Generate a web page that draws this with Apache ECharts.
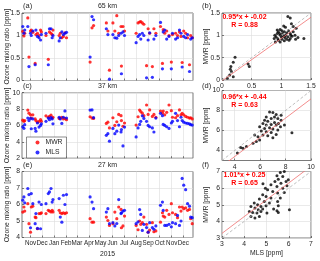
<!DOCTYPE html>
<html><head><meta charset="utf-8">
<script src="https://cdn.jsdelivr.net/npm/echarts@6/dist/echarts.min.js"></script>
<style>html,body{margin:0;padding:0;background:#fff}#c{width:320px;height:261px}</style>
</head><body><div id="c"></div>
<script>
// ---------- data ----------
const dates = ['2014-10-12','2014-10-15','2014-10-17','2014-10-25','2014-10-28','2014-11-01','2014-11-03','2014-11-07','2014-11-13','2014-11-15','2014-11-19','2014-11-23','2014-11-27','2014-11-29',
'2014-12-11','2014-12-17','2014-12-20','2014-12-24','2014-12-27','2014-12-29',
'2015-01-14','2015-01-17','2015-01-21','2015-01-25','2015-01-29','2015-02-02',
'2015-04-04','2015-04-09','2015-04-13',
'2015-05-16','2015-05-20','2015-05-24','2015-06-02','2015-06-07','2015-06-12','2015-06-17','2015-06-23','2015-06-24','2015-06-28','2015-07-02',
'2015-08-01','2015-08-06','2015-08-10','2015-08-13','2015-08-17','2015-08-21','2015-08-28','2015-09-01','2015-09-05','2015-09-12','2015-09-16','2015-09-21',
'2015-10-03','2015-10-08','2015-10-10','2015-10-14','2015-10-19','2015-10-25','2015-10-31','2015-11-03',
'2015-11-11','2015-11-16','2015-11-21','2015-11-25','2015-11-28','2015-12-02','2015-12-07','2015-12-12','2015-12-17','2015-12-20','2015-12-24'];

const mwr65 = [1.09,0.99,1.05,1.39,0.52,1.10,1.12,1.07,0.38,1.02,1.05,1.00,1.12,1.08,
1.00,0.47,1.08,1.05,1.02,1.12,
1.00,1.05,0.95,0.98,1.06,0.95,
0.41,1.17,1.22,
1.28,1.10,0.23,1.28,1.10,1.44,1.05,1.20,0.32,1.20,1.10,
1.05,1.28,1.30,1.31,1.28,1.25,0.33,1.15,1.05,0.31,1.15,1.05,
1.20,0.38,1.13,1.05,1.10,1.00,0.41,1.02,
1.05,1.00,1.08,0.98,0.40,1.10,1.05,0.95,0.35,1.00,0.95];
const mls65 = [1.20,1.05,1.12,1.20,0.31,1.05,1.00,1.10,0.35,1.12,0.98,0.95,0.90,1.02,
1.05,0.35,1.15,1.15,0.95,1.00,
0.88,0.95,1.08,1.02,1.05,1.07,
0.52,1.42,1.35,
1.15,1.02,0.03,1.02,0.95,0.94,1.00,1.05,0.15,1.08,1.00,
0.84,0.98,1.02,0.92,1.05,1.00,0.06,0.90,1.06,0.07,0.92,1.00,
1.29,0.26,1.08,1.12,0.92,0.98,0.26,1.05,
0.92,0.95,1.12,1.05,0.30,0.98,0.95,1.02,0.20,0.92,0.95];

const mwr37 = [6.65,6.5,6.6,7.88,7.5,7.3,6.9,7.3,6.8,6.6,6.4,6.5,6.7,6.5,
7.18,7.0,7.1,7.25,6.9,7.0,
6.86,6.9,7.0,6.8,6.86,6.7,
7.06,6.9,6.86,
6.25,6.4,5.7,6.94,6.0,6.45,7.35,7.2,6.6,5.9,6.3,
6.05,7.06,7.88,7.7,7.5,7.2,8.5,7.35,7.9,7.1,7.35,7.0,
7.76,7.5,7.76,7.3,7.6,8.5,7.8,7.0,
6.94,7.2,7.9,7.3,7.48,7.3,7.1,7.0,6.9,6.94,6.8];
const mls37 = [5.84,5.65,6.1,6.9,6.6,6.86,5.6,6.8,5.64,5.3,6.3,5.8,6.0,6.2,
6.5,6.9,6.7,6.95,6.8,6.2,
7.0,6.8,6.25,7.0,7.77,6.9,
7.88,7.9,6.95,
4.8,5.0,4.08,5.64,5.0,5.3,6.05,5.2,5.5,3.5,5.8,
4.6,5.7,6.13,6.5,7.18,6.86,6.5,6.0,5.84,5.7,5.2,6.9,
7.48,7.2,6.13,6.0,5.84,5.64,6.3,6.5,
7.48,6.6,5.84,7.0,6.6,6.4,6.3,6.25,6.2,6.1,6.05];

const mwr27 = [5.54,5.85,5.6,6.05,4.84,4.32,5.85,5.9,5.24,5.2,4.53,5.45,5.45,5.5,
5.45,5.65,5.6,5.55,5.65,5.55,
5.65,5.5,5.45,5.5,5.45,5.5,
5.14,4.93,4.93,
5.24,5.03,4.73,4.84,5.54,5.14,5.85,5.7,4.59,4.7,5.3,
4.73,4.47,5.0,4.8,4.9,5.24,4.8,4.32,4.45,4.9,4.35,4.4,
4.93,5.5,5.3,5.24,5.65,5.4,6.05,5.5,
5.4,5.2,5.85,5.6,5.85,5.75,5.8,5.65,5.7,5.14,4.84];
const mls27 = [6.26,6.46,6.1,6.97,6.6,4.59,6.66,6.05,4.84,5.45,4.55,6.15,4.53,6.0,
6.05,6.66,6.76,6.97,6.15,6.3,
6.36,5.24,4.93,6.56,6.0,6.6,
6.46,6.15,5.75,
5.54,5.75,4.84,4.9,4.7,4.85,6.3,5.45,5.5,5.6,5.65,
4.84,4.95,5.69,5.4,4.43,4.8,4.6,4.32,4.9,4.6,4.5,4.7,
5.95,6.15,5.64,4.73,4.73,4.8,4.65,4.9,
4.84,5.34,4.73,5.0,7.58,7.17,6.9,6.05,5.9,5.24,5.2];

// scatter panels (x: MLS, y: MWR)
const mlsB = [1.11,1.15,1.17,1.04,1.07,0.98,0.93,0.95,1.01,1.05,1.09,1.12,1.15,1.20,1.23,0.89,0.91,0.94,0.98,1.02,1.04,1.07,1.11,1.15,1.18,1.24,1.28,1.38,1.25,1.20,0.95,1.01,1.05,0.90,0.98,1.09,1.13,1.06,1.00,1.16,0.93,0.97,0.88,0.22,0.19,0.15,0.14,0.16,0.13,0.09,0.19,0.44,0.46];
const mwrB = [1.42,1.39,1.26,1.21,1.18,1.13,1.12,1.08,1.10,1.08,1.06,1.10,1.04,1.08,1.00,1.00,0.97,0.93,1.00,1.04,0.98,1.00,0.97,0.93,0.98,0.91,0.95,0.93,1.16,1.20,0.89,0.91,0.88,0.85,0.85,0.91,0.89,0.95,0.97,1.00,1.04,1.04,0.93,0.51,0.40,0.30,0.24,0.19,0.11,0.04,0.07,0.36,0.30];
const mlsD = [6.74,7.0,7.26,6.48,6.87,7.39,7.65,6.6,7.13,6.22,6.48,6.87,7.26,7.6,7.91,5.96,6.35,6.74,7.0,7.39,6.09,6.48,6.87,7.26,6.22,6.6,7.0,5.83,5.96,5.57,5.7,5.44,8.5,4.92,4.65,4.47,4.21,7.65,7.44,6.35,7.13];
const mwrD = [7.86,7.79,7.6,7.36,7.2,7.2,7.03,6.93,6.8,6.7,6.54,6.6,6.54,6.37,6.54,6.37,6.2,6.27,6.14,6.04,5.94,5.88,5.81,5.61,5.55,5.48,5.28,5.38,5.05,5.55,4.89,4.72,5.78,4.39,4.23,4.3,3.74,7.53,6.7,7.03,7.36];
const mlsF = [5.47,5.62,5.8,5.92,5.73,5.53,5.38,5.65,5.88,5.2,5.47,5.73,5.92,5.98,5.05,5.28,5.5,5.8,4.83,4.98,5.2,4.68,4.9,5.13,4.45,4.6,4.75,4.98,4.3,4.48,4.63,4.83,4.23,4.38,4.57,4.75,4.3,4.48,4.68,5.02,5.5,5.53,5.47,5.53,6.03,5.32,4.84,4.95,5.62];
const mwrF = [6.74,6.94,7.0,7.04,6.7,6.54,6.4,6.3,6.4,6.2,6.1,6.0,6.14,6.5,5.9,5.8,5.7,5.74,5.6,5.5,5.4,5.34,5.2,5.1,5.1,5.0,4.9,4.94,4.9,4.8,4.7,4.74,4.6,4.54,4.5,4.6,4.3,4.2,4.3,4.5,5.2,4.94,4.64,4.54,4.7,4.74,6.26,6.0,5.4];

const fitSlopes = [0.95, 0.96, 1.01];
const fitIntercepts = [-0.02, -0.44, 0.25];
const fitR = [0.88, 0.63, 0.65];

const monthTicks = ['2014-11-01','2014-12-01','2015-01-01','2015-02-01','2015-03-01','2015-04-01','2015-05-01','2015-06-01','2015-07-01','2015-08-01','2015-09-01','2015-10-01','2015-11-01','2015-12-01'];
const monthLabels = ['Nov','Dec','Jan','Feb','Mar','Apr','May','Jun','Jul','Aug','Sep','Oct','Nov','Dec'];
const timeRange = ['2014-10-10','2015-12-26'];
const yearLabel = '2015';
const altitudes = ['65 km','37 km','27 km'];
const panelLeft = ['(a)','(c)','(e)'];
const panelRight = ['(b)','(d)','(f)'];
const yNameLeft = 'Ozone mixing ratio [ppm]';
const yNameRight = 'MWR [ppm]';
const xNameRight = 'MLS [ppm]';

// ---------- chart ----------
const T = s => Date.parse(s + 'T00:00:00Z');
const monthTs = monthTicks.map(T);
const FONT = 'Liberation Sans, Arial, Helvetica, sans-serif';
const INK = '#262626';
const GRIDC = '#dcdcdc';
const RED = '#ff0000', BLUE = '#0000ff';

const gridBoxes = [
  {left:22, top:13, width:171, height:67.5},
  {left:22, top:92.7, width:171, height:65.5},
  {left:22, top:171.5, width:171, height:66},
  {left:222, top:13, width:89, height:67},
  {left:222, top:90.5, width:89, height:70},
  {left:222, top:171.5, width:89, height:66.5}
];
const grids = gridBoxes.map(g => Object.assign({}, g, {show:true, borderColor:'#404040', borderWidth:0.7, backgroundColor:'#fff', containLabel:false, outerBoundsMode:'none'}));

const tickStyle = {show:true, inside:true, length:2, lineStyle:{color:INK, width:0.6}};
const labStyle = {fontSize:6.8, color:INK, fontFamily:FONT};
function baseAxis(extra) {
  return Object.assign({
    type:'value',
    axisLine:{show:false},
    axisTick:tickStyle,
    axisLabel:Object.assign({margin:2}, labStyle),
    splitLine:{show:true, lineStyle:{color:GRIDC, width:0.6}}
  }, extra);
}
function nearestMonth(v){
  let bi=0,bd=Infinity; monthTs.forEach((t,i)=>{const d=Math.abs(t-v); if(d<bd){bd=d;bi=i;}}); return monthLabels[bi];
}

const xAxes = [], yAxes = [], series = [];
const leftY = [
  {min:0,max:1.5,interval:0.5},
  {min:2,max:10,interval:2},
  {min:4,max:8,interval:1}
];
const leftData = [[mwr65,mls65],[mwr37,mls37],[mwr27,mls27]];
for (let i=0;i<3;i++){
  xAxes.push(baseAxis({
    gridIndex:i, min:T(timeRange[0]), max:T(timeRange[1]),
    axisTick:Object.assign({customValues:monthTs}, tickStyle),
    axisLabel:Object.assign({show:i===2, customValues:monthTs, formatter:v=>nearestMonth(v), margin:3, interval:0, hideOverlap:false}, labStyle, {fontSize:6.3})
  }));
  yAxes.push(baseAxis(Object.assign({gridIndex:i}, leftY[i])));
  const [r,b] = leftData[i];
  series.push({type:'scatter', name:'MWR', xAxisIndex:i, yAxisIndex:i, symbol:'circle', symbolSize:3.2, itemStyle:{color:RED}, data:dates.map((d,k)=>[T(d), r[k]])});
  series.push({type:'scatter', name:'MLS', xAxisIndex:i, yAxisIndex:i, symbol:'circle', symbolSize:3.2, itemStyle:{color:BLUE}, data:dates.map((d,k)=>[T(d), b[k]])});
}
const rightRange = [
  {min:0,max:1.5,interval:0.5},
  {min:3,max:10,ticks:[4,6,8,10]},
  {min:3,max:7,interval:1}
];
const rightData = [[mlsB,mwrB],[mlsD,mwrD],[mlsF,mwrF]];
for (let j=0;j<3;j++){
  const gi = 3+j, rr = rightRange[j];
  const rng = rr.ticks ? {min:rr.min,max:rr.max} : {min:rr.min,max:rr.max,interval:rr.interval};
  const mk = (m) => rr.ticks ? {
    axisTick:Object.assign({customValues:rr.ticks}, tickStyle),
    axisLabel:Object.assign({customValues:rr.ticks, margin:m}, labStyle)
  } : {axisLabel:Object.assign({margin:m}, labStyle)};
  xAxes.push(baseAxis(Object.assign({gridIndex:gi}, rng, mk(3))));
  yAxes.push(baseAxis(Object.assign({gridIndex:gi}, rng, mk(2))));
  series.push({type:'line', xAxisIndex:gi, yAxisIndex:gi, symbol:'none', silent:true, clip:true,
    lineStyle:{color:'#b0b0b0', width:0.8, type:[3,2]}, data:[[rr.min,rr.min],[rr.max,rr.max]]});
  const s=fitSlopes[j], c=fitIntercepts[j];
  series.push({type:'line', xAxisIndex:gi, yAxisIndex:gi, symbol:'none', silent:true, clip:true,
    lineStyle:{color:'#f07070', width:0.8}, data:[[rr.min, s*rr.min+c],[rr.max, s*rr.max+c]]});
  const [xs,ys] = rightData[j];
  series.push({type:'scatter', xAxisIndex:gi, yAxisIndex:gi, symbol:'circle', symbolSize:3, itemStyle:{color:'#000'},
    data: xs.map((v,k)=>[v, ys[k]])});
}

const graphics = [];
const txt = (x,y,text,o) => graphics.push(Object.assign({type:'text', x, y, z:100, style:Object.assign({text, fontSize:7, fill:INK, fontFamily:FONT, align:'center', verticalAlign:'middle'}, o||{})}));
const leftTop = [6, 86, 165];
for (let i=0;i<3;i++){
  txt(23, leftTop[i], panelLeft[i], {fontSize:7.5, align:'left'});
  txt(107.5, leftTop[i], altitudes[i]);
  txt(202, leftTop[i], panelRight[i], {fontSize:7.5, align:'left'});
  const g = gridBoxes[i], gr = gridBoxes[3+i];
  graphics.push({type:'text', x:7, y:g.top+g.height/2, rotation:Math.PI/2, z:100,
    style:{text:yNameLeft, fontSize:6.8, fill:INK, fontFamily:FONT, align:'center', verticalAlign:'middle'}});
  graphics.push({type:'text', x:206.5, y:gr.top+gr.height/2, rotation:Math.PI/2, z:100,
    style:{text:yNameRight, fontSize:6.8, fill:INK, fontFamily:FONT, align:'center', verticalAlign:'middle'}});
}
txt(107.5, 254, yearLabel, {fontSize:6.8});
txt(266.5, 253, xNameRight, {fontSize:6.8});
const annoY = [[17,25.3],[97.3,105.3],[175,183]];
for (let j=0;j<3;j++){
  const s=fitSlopes[j].toFixed(2), c=fitIntercepts[j].toFixed(2), r=fitR[j].toFixed(2);
  txt(244.5, annoY[j][0], s+'*x + '+c, {fontWeight:'bold', fill:RED});
  txt(244.5, annoY[j][1], 'R = '+r, {fontWeight:'bold', fill:RED});
}

const chart = echarts.init(document.getElementById('c'), null, {renderer:'canvas'});
chart.setOption({
  animation:false,
  backgroundColor:'#fff',
  textStyle:{fontFamily:FONT},
  grid:grids,
  xAxis:xAxes,
  yAxis:yAxes,
  series:series,
  legend:{
    data:[{name:'MWR',icon:'circle'},{name:'MLS',icon:'circle'}],
    orient:'vertical', left:26.5, top:137,
    itemWidth:4, itemHeight:4, itemGap:3,
    padding:[2,4,2,9],
    borderColor:'#404040', borderWidth:0.6, backgroundColor:'#fff',
    textStyle:{fontSize:6.8, color:INK, fontFamily:FONT, padding:[0,0,0,1]},
    selectedMode:false
  },
  graphic:graphics
});
</script></body></html>
